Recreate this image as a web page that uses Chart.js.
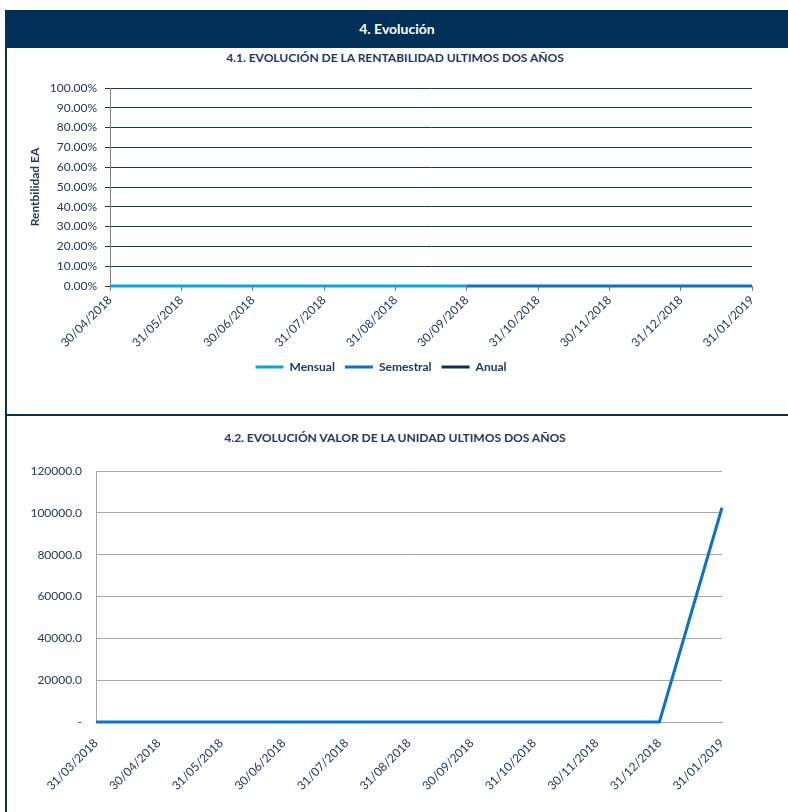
<!DOCTYPE html>
<html>
<head>
<meta charset="utf-8">
<script src="https://cdn.jsdelivr.net/npm/chart.js@4.4.1/dist/chart.umd.min.js"></script>
<style>
  body { margin: 0; background: #fff; font-family: Lato, "Open Sans", sans-serif; }
  #page { position: relative; width: 788px; height: 812px; overflow: hidden; }
  #header { position: absolute; left: 6px; top: 10px; width: 782px; height: 38px; background: #003057;
    color: #fff; font-weight: bold; font-size: 14px; text-align: center; line-height: 38px; }
  #leftline { position: absolute; left: 5px; top: 10px; width: 2px; height: 802px; background: #0B2F55; }
  #sep { position: absolute; left: 5px; top: 414px; width: 783px; height: 2px; background: #0B2F55; }
  .title { position: absolute; left: 10px; width: 770px; text-align: center; font-weight: bold;
    font-size: 12px; color: #1F3864; }
  .box { position: absolute; left: 10px; width: 770px; }
</style>
</head>
<body>
<div id="page">
  <div id="header">4. Evolución</div>
  <div id="leftline"></div>
  <div class="title" style="top:50px">4.1. EVOLUCIÓN DE LA RENTABILIDAD ULTIMOS DOS AÑOS</div>
  <div class="box" style="top:64px;height:330px"><canvas id="chart-rent"></canvas></div>
  <div id="sep"></div>
  <div class="title" style="top:430px">4.2. EVOLUCIÓN VALOR DE LA UNIDAD ULTIMOS DOS AÑOS</div>
  <div class="box" style="top:450px;height:362px"><canvas id="chart-unidad"></canvas></div>
</div>
<script>
const fechasRent = ["30/04/2018", "31/05/2018", "30/06/2018", "31/07/2018", "31/08/2018",
  "30/09/2018", "31/10/2018", "30/11/2018", "31/12/2018", "31/01/2019"];
const mensual = [0, 0, 0, 0, 0, 0, null, null, null, null];
const semestral = [null, null, null, null, null, 0, 0, 0, 0, 0];
const anual = [null, null, null, null, null, null, null, null, null, null];

const fechasUnidad = ["31/03/2018", "30/04/2018", "31/05/2018", "30/06/2018", "31/07/2018", "31/08/2018",
  "30/09/2018", "31/10/2018", "30/11/2018", "31/12/2018", "31/01/2019"];
const valorUnidad = [0, 0, 0, 0, 0, 0, 0, 0, 0, 0, 102500];

const navy = "#1F3864";
const font = { family: "Lato, 'Open Sans', sans-serif", size: 12 };

function serie(label, data, color) {
  return { label, data, borderColor: color, backgroundColor: color, borderWidth: 3,
    pointRadius: 0, tension: 0, spanGaps: false, clip: 6 };
}

new Chart(document.getElementById("chart-rent"), {
  type: "line",
  data: {
    labels: fechasRent,
    datasets: [
      serie("Mensual", mensual, "#0AA3E2"),
      serie("Semestral", semestral, "#0A72C8"),
      serie("Anual", anual, "#0B2F55"),
    ],
  },
  options: {
    animation: false,
    responsive: true,
    maintainAspectRatio: false,
    layout: { padding: { top: 24, right: 28, left: 0, bottom: 11 } },
    scales: {
      x: {
        offset: false,
        grid: { drawOnChartArea: false, drawTicks: true, tickLength: 5, color: "#808080", offset: false },
        border: { color: "#808080" },
        ticks: { color: navy, font, minRotation: 45, maxRotation: 45, autoSkip: false, padding: 2 },
        afterFit: (s) => { s.height = 65; },
      },
      y: {
        min: 0, max: 1,
        grid: { color: "#17365D", tickLength: 5 },
        border: { color: "#808080" },
        ticks: { stepSize: 0.1, color: navy, font, padding: 8,
          callback: (v) => (v * 100).toFixed(2) + "%" },
        title: { display: true, text: "Rentbilidad EA", color: navy,
          font: { ...font, weight: "bold" }, padding: { top: 18, bottom: 0 } },
        afterFit: (s) => { s.width = 100; },
      },
    },
    plugins: {
      legend: {
        position: "bottom",
        labels: {
          color: navy, font: { ...font, weight: "bold" }, boxWidth: 28, boxHeight: 3, padding: 10,
          generateLabels: (chart) => Chart.defaults.plugins.legend.labels.generateLabels(chart)
            .map((l) => ({ ...l, lineWidth: 0 })),
        },
      },
      tooltip: { enabled: false },
    },
  },
});

new Chart(document.getElementById("chart-unidad"), {
  type: "line",
  data: {
    labels: fechasUnidad,
    datasets: [serie("Valor unidad", valorUnidad, "#0A72CC")],
  },
  options: {
    animation: false,
    responsive: true,
    maintainAspectRatio: false,
    layout: { padding: { top: 20, right: 58, left: 0, bottom: 0 } },
    scales: {
      x: {
        offset: false,
        grid: { display: false },
        border: { color: "#A6A6A6" },
        ticks: { color: navy, font, minRotation: 45, maxRotation: 45, autoSkip: false, padding: 6 },
        afterFit: (s) => { s.height = 90; },
      },
      y: {
        min: 0, max: 120000,
        grid: { color: "#A6A6A6", drawTicks: false },
        border: { color: "#A6A6A6" },
        ticks: { stepSize: 20000, color: navy, font, padding: 14,
          callback: (v) => (v === 0 ? "-" : v.toFixed(1)) },
        afterFit: (s) => { s.width = 86; },
      },
    },
    plugins: { legend: { display: false }, tooltip: { enabled: false } },
  },
});
</script>
</body>
</html>
